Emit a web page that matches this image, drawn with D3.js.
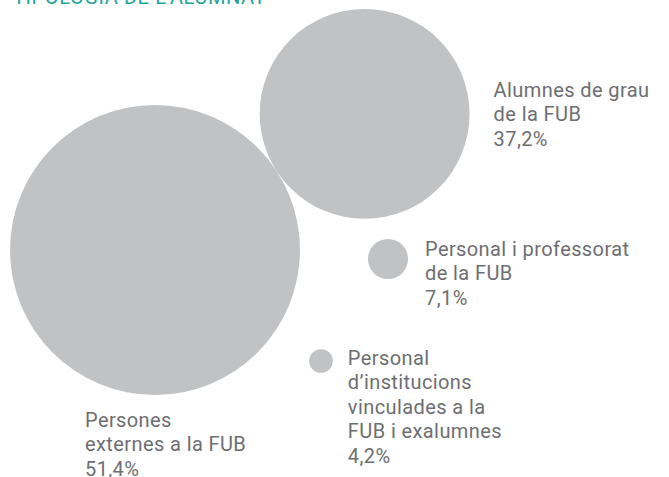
<!DOCTYPE html>
<html>
<head>
<meta charset="utf-8">
<script src="https://cdn.jsdelivr.net/npm/d3@7"></script>
<style>
	html, body { margin: 0; padding: 0; background: #fff; }
	svg { display: block; }
</style>
</head>
<body>
<script>

// DATA
const categories = ["Persones externes a la FUB", "Alumnes de grau de la FUB", "Personal i professorat de la FUB", "Personal d’institucions vinculades a la FUB i exalumnes"];
const values = [51.4, 37.2, 7.1, 4.2];
const labelLines = [
	["Persones", "externes a la FUB"],
	["Alumnes de grau", "de la FUB"],
	["Personal i professorat", "de la FUB"],
	["Personal", "d’institucions", "vinculades a la", "FUB i exalumnes"]
];
const title = "TIPOLOGIA DE L’ALUMNAT";

// dimension
const w = 669;
const h = 477;
const fmt = v => d3.format(".1f")(v).replace(".", ",") + "%";

// radius scale (linear on value, as in the original)
const rScale = d3.scaleLinear().domain([0, d3.max(values)]).range([0, 145]);

// layout: where each bubble sits (hand placed)
const bigC = { x: 155, y: 250 };
const layout = [
	{ c: bigC },
	{ tangentTo: 0, angle: -33 },
	{ c: { x: 388, y: 259 } },
	{ c: { x: 321, y: 361 } }
];
const nodes = values.map((v, i) => ({ v, i, r: rScale(v) }));
layout.forEach((l, i) => {
	if (l.c) { nodes[i].x = l.c.x; nodes[i].y = l.c.y; }
	else {
		const p = nodes[l.tangentTo];
		const a = l.angle * Math.PI / 180;
		const d = p.r + nodes[i].r;
		nodes[i].x = p.x + d * Math.cos(a);
		nodes[i].y = p.y + d * Math.sin(a);
	}
});

// label anchors relative to each bubble
const labelPos = [
	n => ({ x: 85, y: 427 }),
	n => ({ x: n.x + 129, y: 97 }),
	n => ({ x: n.x + n.r + 17, y: 256 }),
	n => ({ x: n.x + n.r + 15, y: 365 })
];

const svg = d3.select("body").append("svg").attr("width", w).attr("height", h);

// title (cut at the top of the picture)
svg.append("text")
	.attr("x", 13).attr("y", 4)
	.attr("fill", "#1fa39b")
	.attr("font-family", "Roboto, sans-serif")
	.attr("font-size", 20)
	.attr("letter-spacing", 0.6)
	.text(title);

// bubbles
svg.selectAll("circle").data(nodes).enter().append("circle")
	.attr("cx", d => d.x)
	.attr("cy", d => d.y)
	.attr("r", d => d.r)
	.attr("fill", "#c1c2c4");

// labels
const lh = 24.4;
svg.selectAll("text.lab").data(nodes).enter().append("text")
	.attr("class", "lab")
	.attr("fill", "#6d6e71")
	.attr("font-family", "Roboto, sans-serif")
	.attr("font-size", 20)
	.attr("letter-spacing", 0.4)
	.each(function(d) {
		const p = labelPos[d.i](d);
		const lines = labelLines[d.i].concat([fmt(d.v)]);
		d3.select(this).selectAll("tspan").data(lines).enter().append("tspan")
			.attr("x", p.x)
			.attr("y", (t, j) => p.y + j * lh)
			.text(t => t);
	});

</script>
</body>
</html>
